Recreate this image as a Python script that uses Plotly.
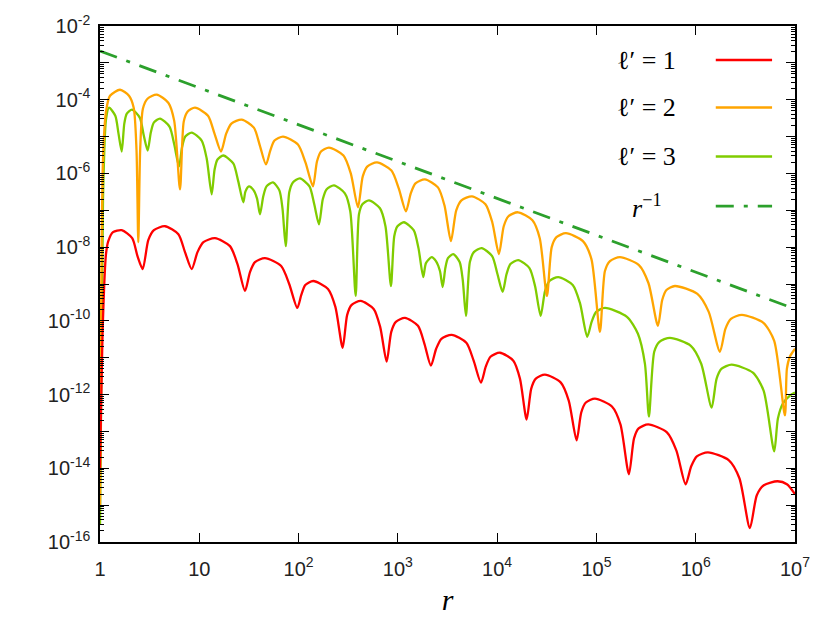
import plotly.graph_objects as go

# ---------------- data ----------------
# l' = 1 (red)
r_l1 = [1.0, 1.072, 1.149, 1.212, 1.352, 1.654, 2.110, 2.386, 2.692, 3.064, 3.490, 4.514,
        6.16, 7.178, 8.384, 9.592, 11.00, 14.39, 20.38, 24.25, 28.86, 32.40, 36.38, 45.88,
        66.80, 80.44, 97.03, 106.5, 116.8, 140.6, 197.8, 234.8, 278.0, 308.7, 342.5, 422.1,
        570.5, 663.5, 771.3, 858.1, 954.5, 1179, 1594, 1853, 2154, 2431, 2743, 3482,
        4896, 5800, 6870, 7677, 8560, 10670, 14560, 16970, 19820, 22050, 24530, 30300,
        43810, 52600, 63180, 70310, 78240, 96580, 143300, 174500, 212500, 239200, 266100, 332400,
        512900, 637800, 791200, 901000, 1.026e6, 1.327e6, 2.160e6, 2.755e6, 3.514e6, 4.124e6,
        4.851e6, 6.680e6, 8.29e6, 1.0e7]
psi_l1 = [1e-14, 1.133e-10, 6.47e-9, 1.453e-8, 2.543e-8, 2.88e-8, 1.75e-8, 5.71e-9, 2.543e-9,
          1.546e-8, 2.88e-8, 3.69e-8, 2.245e-8, 7.33e-9, 2.543e-9, 7.33e-9, 1.365e-8, 1.75e-8,
          1.064e-8, 3.47e-9, 6.47e-10, 2.11e-9, 3.93e-9, 5.04e-9, 3.065e-9, 1.0e-9, 2.245e-10,
          5.04e-10, 9.40e-10, 1.205e-9, 7.33e-10, 2.39e-10, 1.864e-11, 1.453e-10, 2.706e-10,
          3.47e-10, 2.11e-10, 6.88e-11, 7.79e-12, 5.04e-11, 9.40e-11, 1.205e-10, 7.33e-11,
          2.39e-11, 6.08e-12, 1.75e-11, 3.263e-11, 4.18e-11, 2.543e-11, 8.30e-12, 2.11e-12,
          5.71e-12, 1.064e-11, 1.365e-11, 8.30e-12, 2.706e-12, 2.11e-13, 1.453e-12, 2.706e-12,
          3.47e-12, 2.11e-12, 6.88e-13, 5.71e-14, 3.263e-13, 6.08e-13, 7.79e-13, 4.74e-13,
          1.546e-13, 6.88e-15, 6.47e-14, 1.205e-13, 1.546e-13, 9.40e-14, 3.065e-14, 3.69e-15,
          1.133e-14, 2.11e-14, 2.706e-14, 1.645e-14, 5.37e-15, 2.39e-16, 1.864e-15, 3.47e-15,
          4.45e-15, 3.69e-15, 1.983e-15]

# l' = 2 (orange)
r_l2 = [1.0, 1.072, 1.149, 1.261, 1.590, 1.959, 2.185, 2.331, 2.431, 2.540, 2.704, 3.008,
        3.724, 4.874, 5.587, 6.394, 6.972, 7.606, 9.05, 12.24, 14.23, 16.54, 18.66, 21.05,
        26.73, 35.46, 40.76, 46.96, 51.88, 57.20, 69.65, 98.6, 117.3, 139.6, 153.2, 168.1,
        202.4, 283.3, 335.6, 396.5, 443.1, 494.2, 616.0, 862, 1021, 1206, 1349, 1504,
        1875, 2534, 2946, 3425, 3873, 4370, 5577, 7624, 8927, 10426, 11654, 13000,
        16200, 22670, 26860, 31730, 35460, 39560, 49300, 73110, 89050, 108440, 121800, 136800,
        172500, 267900, 334000, 416300, 459800, 507000, 617300, 1.04e6, 1.352e6, 1.753e6,
        1.991e6, 2.262e6, 2.920e6, 4.807e6, 6.173e6, 7.912e6, 8.29e6, 8.88e6, 1.0e7]
psi_l2 = [1e-15, 2.39e-6, 4.74e-5, 1.283e-4, 1.864e-4, 1.283e-4, 6.08e-5, 4.45e-6, 1.365e-8,
          4.45e-6, 5.71e-5, 1.064e-4, 1.365e-4, 8.30e-5, 2.706e-5, 3.69e-7, 2.543e-5, 4.74e-5,
          6.08e-5, 3.69e-5, 1.205e-5, 3.93e-6, 1.205e-5, 2.245e-5, 2.88e-5, 1.75e-5, 5.71e-6,
          1.75e-6, 4.18e-6, 7.79e-6, 1.0e-5, 6.08e-6, 1.983e-6, 4.45e-7, 2.11e-6, 3.93e-6,
          5.04e-6, 3.065e-6, 1.0e-6, 1.205e-7, 8.30e-7, 1.546e-6, 1.983e-6, 1.205e-6, 3.93e-7,
          9.40e-8, 2.88e-7, 5.37e-7, 6.88e-7, 4.18e-7, 1.365e-7, 1.453e-8, 1.0e-7, 1.864e-7,
          2.39e-7, 1.453e-7, 4.74e-8, 6.47e-9, 3.69e-8, 6.88e-8, 8.83e-8, 5.37e-8, 1.75e-8,
          4.74e-10, 1.0e-8, 1.864e-8, 2.39e-8, 1.453e-8, 4.74e-9, 5.04e-11, 2.245e-9, 4.18e-9,
          5.37e-9, 3.263e-9, 1.064e-9, 7.33e-11, 3.69e-10, 6.88e-10, 8.83e-10, 5.37e-10, 1.75e-10,
          1.453e-11, 6.08e-11, 1.133e-10, 1.453e-10, 8.83e-11, 2.88e-11, 2.71e-13, 5.04e-12,
          1.064e-11, 1.75e-11]

# l' = 3 (light green)
r_l3 = [1.0, 1.072, 1.149, 1.232, 1.426, 1.536, 1.654, 1.757, 1.862, 2.100, 2.516, 2.761,
        3.022, 3.249, 3.482, 4.02, 5.01, 5.600, 6.247, 6.727, 7.228, 8.384, 10.57, 11.87,
        13.33, 14.26, 15.25, 17.45, 22.00, 24.70, 27.74, 29.19, 31.66, 34.74, 38.12, 40.86,
        44.11, 47.51, 55.24, 64.08, 68.85, 74.17, 80.61, 87.62, 103.3, 128.8, 143.9, 160.5,
        175.3, 191.0, 227.3, 292.6, 331.6, 375.8, 405.8, 439.0, 511.7, 660.3, 750.3, 852.0,
        919.8, 990.8, 1152, 1443, 1613, 1803, 1919, 2190, 2420, 2655, 2827, 3008,
        3195, 3614, 4192, 4504, 4852, 5311, 5826, 6982, 8905, 10070, 11360, 12440,
        13610, 16310, 21150, 24080, 27430, 30370, 33630, 41240, 57720, 68210, 80790, 89490,
        99310, 121800, 202900, 261800, 307800, 337900, 382100, 430900, 549900, 892600, 1.136e6,
        1.446e6, 1.624e6, 1.823e6, 2.299e6, 3.767e6, 4.829e6, 6.173e6, 6.727e6, 7.552e6,
        8.884e6, 1.0e7]
psi_l3 = [3e-16, 1.983e-7, 2.88e-5, 6.08e-5, 3.69e-5, 1.205e-5, 3.93e-6, 2.245e-5, 4.18e-5,
          5.37e-5, 3.263e-5, 1.064e-5, 4.18e-6, 1.283e-5, 2.39e-5, 3.065e-5, 1.864e-5, 6.08e-6,
          1.546e-6, 5.37e-6, 1.0e-5, 1.283e-5, 7.79e-6, 2.543e-6, 2.706e-7, 1.283e-6, 2.39e-6,
          3.065e-6, 1.864e-6, 6.08e-7, 1.645e-7, 3.263e-7, 4.45e-7, 3.69e-7, 2.11e-7, 7.79e-8,
          2.39e-7, 4.45e-7, 5.71e-7, 3.47e-7, 1.133e-7, 1.064e-8, 3.065e-7, 5.71e-7, 7.33e-7,
          4.45e-7, 1.453e-7, 4.18e-8, 1.983e-7, 3.69e-7, 4.74e-7, 2.88e-7, 9.40e-8, 4.74e-10,
          7.79e-8, 1.453e-7, 1.864e-7, 1.133e-7, 3.69e-8, 8.83e-10, 1.983e-8, 3.69e-8, 4.74e-8,
          2.88e-8, 9.40e-9, 1.546e-9, 3.69e-9, 5.37e-9, 4.18e-9, 2.245e-9, 8.30e-10, 2.706e-9,
          5.04e-9, 6.47e-9, 3.93e-9, 1.283e-9, 1.365e-10, 3.93e-9, 7.33e-9, 9.40e-9, 5.71e-9,
          1.864e-9, 6.08e-10, 1.864e-9, 3.47e-9, 4.45e-9, 2.706e-9, 8.83e-10, 1.365e-10,
          6.47e-10, 1.205e-9, 1.546e-9, 9.40e-10, 3.065e-10, 3.69e-11, 9.40e-11, 1.75e-10,
          2.245e-10, 1.283e-10, 4.45e-11, 6.88e-12, 2.54e-13, 1.453e-11, 2.706e-11, 3.47e-11,
          2.11e-11, 6.88e-12, 4.45e-13, 2.706e-12, 5.04e-12, 6.47e-12, 3.93e-12, 1.283e-12,
          2.88e-14, 2.245e-13, 5.71e-13, 9.40e-13, 1.133e-12]

# r^-1 reference line
r_ref = [1.0, 1.0e7]
psi_ref = [2.1e-3, 2.1e-10]

# ticks
x_tickvals = [1, 10, 100, 1e3, 1e4, 1e5, 1e6, 1e7]
x_ticktext = ["1", "10", "10<sup>2</sup>", "10<sup>3</sup>", "10<sup>4</sup>",
              "10<sup>5</sup>", "10<sup>6</sup>", "10<sup>7</sup>"]
y_exponents = list(range(-16, -1))
y_tickvals = [10.0 ** e for e in y_exponents]
y_ticktext = [("10<sup>%d</sup>" % e) if e % 2 == 0 else "" for e in y_exponents]
y_minorvals = [k * 10.0 ** e for e in range(-16, -2) for k in range(2, 10)]

legend_labels = ["ℓ′ = 1", "ℓ′ = 2", "ℓ′ = 3", "<i>r</i><sup>−1</sup>"]

# ---------------- styles ----------------
c_red = "#ff0000"
c_orange = "#ffa500"
c_green = "#80cc00"
c_ref = "#2ca02c"
ref_dash = "18px,10px,4px,10px"
curve_line = dict(width=2.3, shape="spline", smoothing=0.7)

fig = go.Figure()
fig.add_trace(go.Scatter(x=r_l3, y=psi_l3, mode="lines", line=dict(color=c_green, **curve_line)))
fig.add_trace(go.Scatter(x=r_l2, y=psi_l2, mode="lines", line=dict(color=c_orange, **curve_line)))
fig.add_trace(go.Scatter(x=r_l1, y=psi_l1, mode="lines", line=dict(color=c_red, **curve_line)))
fig.add_trace(go.Scatter(x=r_ref, y=psi_ref, mode="lines",
                         line=dict(color=c_ref, width=2.8, dash=ref_dash)))

tickfont = dict(family="Liberation Sans, Arial, sans-serif", size=20, color="#222222")

fig.update_layout(
    width=830, height=623,
    margin=dict(l=100, r=35, t=26, b=79),
    paper_bgcolor="white", plot_bgcolor="white",
    showlegend=False,
    xaxis=dict(type="log", range=[0, 7], tickmode="array", tickvals=x_tickvals,
               ticktext=x_ticktext, ticks="inside", ticklen=9, tickwidth=1.2,
               tickcolor="black", showline=True, linecolor="black", linewidth=1.5,
               mirror="ticks", showgrid=False, zeroline=False, tickfont=tickfont,
               ticklabelstandoff=8,
               title=dict(text="<i>r</i>", font=dict(family="Liberation Serif, serif",
                                                     size=30, color="black"), standoff=10)),
    yaxis=dict(type="log", range=[-16, -2], tickmode="array", tickvals=y_tickvals,
               ticktext=y_ticktext, ticks="inside", ticklen=9, tickwidth=1.2,
               tickcolor="black", showline=True, linecolor="black", linewidth=1.5,
               mirror="ticks", showgrid=False, zeroline=False, tickfont=tickfont,
               ticklabelstandoff=4,
               minor=dict(tickmode="array", tickvals=y_minorvals, ticks="inside",
                          ticklen=4.5, tickwidth=1, tickcolor="black", showgrid=False)),
)

# legend drawn to look like the original (label on the left, sample on the right)
legend_colors = [c_red, c_orange, c_green, c_ref]
legend_dashes = ["solid", "solid", "solid", ref_dash]
legend_y = [0.934, 0.842, 0.747, 0.651]
for lab, col, dsh, yy in zip(legend_labels, legend_colors, legend_dashes, legend_y):
    fig.add_shape(type="line", xref="paper", yref="paper", x0=0.886, x1=0.967, y0=yy, y1=yy,
                  line=dict(color=col, width=2.5 if dsh == "solid" else 2.8, dash=dsh))
    fig.add_annotation(xref="paper", yref="paper", x=0.787, y=yy, text=lab, showarrow=False,
                       xanchor="center", yanchor="middle",
                       font=dict(family="Liberation Serif, serif", size=26, color="black"))

fig.write_html("out.html", post_script="document.body.style.margin='0';",
               config={"displayModeBar": False})
